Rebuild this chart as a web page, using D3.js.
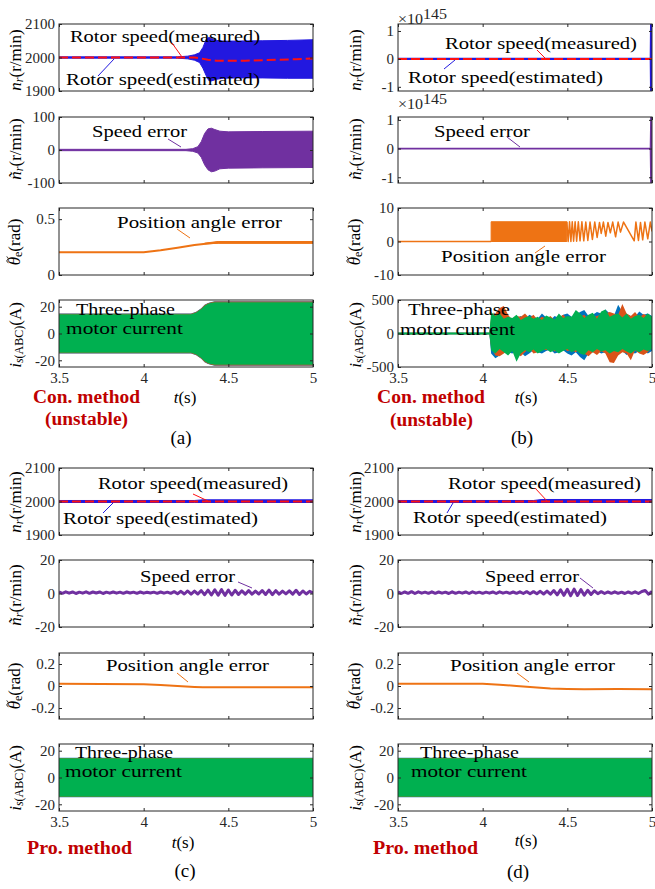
<!DOCTYPE html>
<html>
<head>
<meta charset="utf-8">
<script src="https://cdn.jsdelivr.net/npm/d3@7"></script>
<style>
  body { margin: 0; background: #fff; }
  svg { display: block; }
  text { font-family: "Liberation Serif", "DejaVu Serif", serif; }
</style>
</head>
<body>
<svg id="fig" width="655" height="889"></svg>
<script>
// ---------- shared time axis ----------
const tRange = [3.5, 5.0];
const xTickVals = [3.5, 4, 4.5, 5];

// ---------- (a) conventional method ----------
const aSpeedMeasT = [3.50, 4.30, 4.34, 4.38, 4.43, 4.50, 4.60, 4.70, 4.80, 4.90, 5.00];
const aSpeedMeasV = [2000, 2000, 1997, 1993, 1990.5, 1990, 1990.5, 1992, 1993.5, 1995, 1997];
const aSpeedEstT  = [3.50, 4.20, 4.26, 4.30, 4.33, 4.35, 4.37, 4.385, 4.40, 4.43, 4.47, 4.55, 4.70, 4.85, 5.00];
const aSpeedEstHi = [2002, 2002, 2004, 2008, 2014, 2030, 2055, 2060, 2057, 2051, 2049, 2049, 2050, 2051, 2053];
const aSpeedEstLo = [1998, 1998, 1996, 1992, 1985, 1968, 1945, 1931, 1930, 1935, 1938, 1939, 1939, 1938, 1938];
const aErrT  = [3.50, 4.25, 4.29, 4.32, 4.34, 4.36, 4.38, 4.40, 4.42, 4.45, 4.50, 4.70, 5.00];
const aErrHi = [2, 2, 4, 10, 25, 50, 64, 66, 62, 57, 55, 56, 57];
const aErrLo = [-2, -2, -4, -9, -22, -45, -60, -66, -64, -57, -55, -54, -53];
const aAngT = [3.50, 4.00, 4.10, 4.20, 4.30, 4.38, 4.44, 5.00];
const aAngV = [0.203, 0.203, 0.222, 0.245, 0.268, 0.282, 0.292, 0.292];
const aAngRipT  = [4.36, 4.44, 5.00];
const aAngRipHi = [0.285, 0.300, 0.300];
const aAngRipLo = [0.279, 0.284, 0.284];
const aCurT = [3.50, 4.28, 4.31, 4.34, 4.36, 4.38, 4.40, 4.42, 5.00];
const aCurA = [14.9, 14.9, 16.2, 18.8, 21.4, 22.8, 23.6, 24.0, 24.0];
const aCurB = [14.7, 14.7, 16.0, 18.6, 21.2, 22.6, 23.4, 23.8, 23.8];
const aCurC = [14.3, 14.3, 15.6, 18.2, 20.8, 22.2, 23.0, 23.3, 23.3];

// ---------- (b) conventional method, diverging (speed in units of 1e145) ----------
const bSpeedMeasT = [3.5, 5.0];
const bSpeedMeasV = [0, 0];
const bSpeedEstT  = [3.50, 4.990, 4.992, 5.00];
const bSpeedEstHi = [0.02, 0.02, 1.4, 1.4];
const bSpeedEstLo = [-0.02, -0.02, -1.3, -1.3];
const bErrT  = [3.50, 4.990, 4.993, 5.00];
const bErrHi = [0.01, 0.01, 1.2, 1.2];
const bErrLo = [-0.01, -0.01, -1.3, -1.3];
const bAngPreT = [3.50, 4.05];
const bAngPreV = [0, 0];
const bAngBandT  = [4.05, 4.497];
const bAngBandHi = [5.9, 5.9];
const bAngBandLo = [0, 0];
const bAngT = [4.497, 4.505, 4.513, 4.521, 4.529, 4.537, 4.546, 4.555, 4.565, 4.575,
               4.586, 4.597, 4.609, 4.621, 4.634, 4.648, 4.662, 4.676, 4.690, 4.700,
               4.713, 4.727, 4.740, 4.754, 4.768, 4.785, 4.800, 4.814, 4.832, 4.895,
               4.905, 4.920, 4.932, 4.945, 4.958, 4.975, 4.990, 5.000];
const bAngV = [5.9, 0.0, 5.9, 0.0, 5.9, 0.1, 5.9, 0.1, 5.9, 0.2,
               5.9, 0.2, 5.8, 0.3, 5.8, 0.6, 5.8, 1.2, 5.7, 2.4,
               5.8, 1.6, 5.7, 2.6, 5.8, 1.4, 5.8, 2.8, 5.8, 0.2,
               5.8, 0.3, 5.7, 0.5, 5.8, 0.8, 5.8, 3.0];
const bCurT = [3.5, 4.04, 4.05, 4.075, 4.1, 4.125, 4.15, 4.175, 4.2, 4.225,
               4.25, 4.275, 4.3, 4.325, 4.35, 4.375, 4.4, 4.425, 4.45, 4.475,
               4.5, 4.525, 4.55, 4.575, 4.6, 4.625, 4.65, 4.675, 4.7, 4.725,
               4.75, 4.775, 4.8, 4.825, 4.85, 4.875, 4.9, 4.925, 4.95, 4.975, 5.0];
const bCurAHi = [10, 10, 200, 280, 250, 220, 240, 200, 220, 260, 200, 280, 250, 220, 300, 240, 200, 260, 230, 280,
                 300, 250, 280, 320, 350, 260, 280, 320, 300, 360, 300, 260, 430, 320, 290, 260, 250, 330, 280, 300, 260];
const bCurALo = [-10, -10, -300, -370, -330, -250, -280, -300, -260, -280, -340, -300, -250, -280, -300, -260, -240, -300, -280, -250,
                 -300, -330, -280, -350, -400, -300, -280, -260, -300, -280, -250, -300, -280, -260, -320, -280, -300, -260, -240, -300, -260];
const bCurBHi = [12, 12, 250, 300, 380, 410, 280, 200, 260, 250, 300, 230, 280, 200, 250, 220, 260, 200, 240, 280,
                 220, 200, 300, 250, 280, 200, 240, 260, 280, 300, 320, 300, 280, 440, 300, 260, 320, 240, 290, 260, 220];
const bCurBLo = [-12, -12, -200, -330, -340, -300, -250, -220, -300, -340, -280, -220, -300, -280, -230, -250, -220, -270, -240, -220,
                 -260, -250, -280, -230, -300, -340, -280, -320, -260, -300, -430, -440, -330, -280, -300, -400, -250, -300, -320, -280, -200];
const bCurCHi = [15, 15, 320, 260, 300, 220, 250, 230, 280, 200, 240, 260, 220, 250, 200, 270, 240, 210, 300, 230,
                 260, 250, 350, 300, 230, 280, 310, 220, 330, 360, 250, 280, 300, 240, 300, 220, 260, 280, 230, 300, 250];
const bCurCLo = [-15, -15, -250, -300, -230, -280, -330, -260, -420, -300, -250, -280, -240, -300, -260, -230, -280, -250, -300, -260,
                 -230, -280, -250, -300, -320, -250, -280, -230, -270, -250, -300, -260, -280, -230, -270, -300, -250, -280, -240, -260, -230];

// ---------- (c) proposed method ----------
const cSpeedMeasT = [3.5, 5.0];
const cSpeedMeasV = [2000, 2000];
const cSpeedEstT  = [3.50, 4.30, 4.35, 5.00];
const cSpeedEstHi = [2003, 2003, 2005, 2005];
const cSpeedEstLo = [1997, 1997, 1997, 1997];
const errStep = 0.02;   // speed error sampled every 20 ms from 3.5 s
const cErrV = [0.9, 0.1, 1.0, 0.2, 0.9, 0.0, 0.8, 0.2, 1.0, 0.1, 0.9, 0.3, 0.9, 0.0, 0.8, 0.2, 0.9, 0.2, 0.8, 0.1,
               0.9, 0.3, 0.8, 0.1, 0.9, 0.2, 0.7, 0.3, 0.8, 0.1, 0.9, 0.2, 0.8, 0.1, 1.1,
               -0.1, 1.3, -0.3, 1.5, -0.4, 1.4, -0.3, 1.7, -0.7, 2.0, -0.9, 2.2, -1.0, 2.3, -1.1, 2.1, -0.9, 1.9, -0.6, 1.6,
               -0.4, 1.7, -0.4, 1.4, -0.3, 1.8, -0.6, 2.0, -0.7, 1.7, -0.4, 1.4, -0.2, 1.6, -0.4, 1.9, -0.6, 1.5, -0.3, 1.3, 0.3];
const cAngT = [3.50, 3.75, 4.00, 4.10, 4.20, 4.30, 4.35, 4.50, 4.70, 4.90, 5.00];
const cAngV = [0.020, 0.019, 0.016, 0.009, 0.000, -0.009, -0.012, -0.012, -0.011, -0.011, -0.012];
const cCurT = [3.5, 5.0];
const cCurA = [14.8, 14.8];
const cCurB = [14.6, 14.6];
const cCurC = [14.3, 14.3];

// ---------- (d) proposed method ----------
const dSpeedMeasT = [3.5, 5.0];
const dSpeedMeasV = [2000, 2000];
const dSpeedEstT  = [3.50, 4.30, 4.35, 5.00];
const dSpeedEstHi = [2003, 2003, 2006, 2006];
const dSpeedEstLo = [1997, 1997, 1997, 1997];
const dErrV = [1.0, 0.0, 0.9, 0.1, 1.1, 0.0, 1.0, 0.2, 0.8, 0.1, 1.0, 0.1, 0.9, 0.2, 0.8, 0.0, 1.0, 0.1, 0.8, 0.2,
               0.9, 0.0, 1.0, 0.2, 0.8, 0.1, 0.8, 0.2, 0.9, 0.0, 1.0, 0.2, 0.8, 0.1, 0.9, 0.1, 1.0, 0.0, 1.1, -0.1,
               1.1, -0.1, 1.3, -0.3, 1.4, -0.4,
               1.8, -0.8, 2.2, -1.1, 2.5, -1.3, 2.6, -1.2, 2.3, -1.0, 1.9, -0.6, 1.6,
               -0.1, 1.1, 0.0, 0.9, 0.1, 1.0, 0.1, 0.8, 0.0, 0.9, 0.1, 1.0, 0.0, 1.2, 1.8, -0.4, 1.3];
const dAngT = [3.50, 4.00, 4.10, 4.20, 4.30, 4.40, 4.50, 4.60, 4.80, 5.00];
const dAngV = [0.020, 0.020, 0.012, 0.000, -0.012, -0.022, -0.027, -0.030, -0.028, -0.030];
const dCurT = [3.5, 5.0];
const dCurA = [14.8, 14.8];
const dCurB = [14.6, 14.6];
const dCurC = [14.3, 14.3];

// ---------- colours ----------
const C_EST = '#2218e0', C_MEAS = '#ff1010', C_ERR = '#7030a0', C_ANG = '#ee7314';
const C_PA = '#0072bd', C_PB = '#d95319', C_PC = '#00b050';
const FONT = '"Liberation Serif", "DejaVu Serif", serif';
const INK = '#262626';

// ---------- layout ----------
const colL = [59, 313], colR = [398, 652];
const rowsTop = [[24, 91], [117, 183], [208, 275], [300, 367]];
const rowsBot = [[468, 535], [560, 627], [653, 719], [744, 811]];

const svg = d3.select('#fig');
let clipCount = 0;

function makePanel(cols, rows, yDomain, yTicks, showX) {
  const [x0, x1] = cols, [yt, yb] = rows;
  const x = d3.scaleLinear().domain(tRange).range([x0, x1]);
  const y = d3.scaleLinear().domain(yDomain).range([yb, yt]);
  const id = 'clip-' + (clipCount++);
  svg.append('clipPath').attr('id', id)
    .append('rect').attr('x', x0).attr('y', yt).attr('width', x1 - x0).attr('height', yb - yt);
  const plot = svg.append('g').attr('clip-path', `url(#${id})`);
  return { x, y, plot, x0, x1, yt, yb, yTicks, showX };
}

function finishPanel(p) {
  const g = svg.append('g');
  const fmt = d => String(d);
  g.append('g').attr('transform', `translate(${p.x0},0)`)
    .call(d3.axisLeft(p.y).tickValues(p.yTicks).tickSize(-3).tickPadding(4).tickFormat(fmt));
  g.append('g').attr('transform', `translate(${p.x1},0)`)
    .call(d3.axisRight(p.y).tickValues(p.yTicks).tickSize(-3).tickFormat(''));
  g.append('g').attr('transform', `translate(0,${p.yt})`)
    .call(d3.axisTop(p.x).tickValues(xTickVals).tickSize(-3).tickFormat(''));
  g.append('g').attr('transform', `translate(0,${p.yb})`)
    .call(d3.axisBottom(p.x).tickValues(xTickVals).tickSize(-3).tickPadding(5.5)
      .tickFormat(p.showX ? fmt : ''));
  g.selectAll('.domain').remove();
  g.selectAll('.tick line').attr('stroke', INK);
  g.selectAll('.tick text').attr('fill', INK).style('font-family', FONT).style('font-size', '15px');
  g.append('rect').attr('x', p.x0).attr('y', p.yt).attr('width', p.x1 - p.x0).attr('height', p.yb - p.yt)
    .attr('fill', 'none').attr('stroke', INK).attr('stroke-width', 1);
}

function band(p, T, hi, lo, color, edge) {
  const rows = T.map((t, i) => ({ t, hi: hi[i], lo: lo[i] }));
  p.plot.append('path').datum(rows)
    .attr('d', d3.area().x(d => p.x(d.t)).y0(d => p.y(d.lo)).y1(d => p.y(d.hi)))
    .attr('fill', color).attr('stroke', edge ? color : 'none').attr('stroke-width', edge || 0);
}
function line(p, T, V, color, w, dash) {
  const rows = T.map((t, i) => ({ t, v: V[i] }));
  const path = p.plot.append('path').datum(rows)
    .attr('d', d3.line().x(d => p.x(d.t)).y(d => p.y(d.v)))
    .attr('fill', 'none').attr('stroke', color).attr('stroke-width', w)
    .attr('stroke-linejoin', 'round');
  if (dash) path.attr('stroke-dasharray', dash);
}
function stepTimes(n) { return d3.range(n).map(i => tRange[0] + i * errStep); }

function text(x, cy, str, w, size, opt = {}) {
  const t = svg.append('text').attr('x', x).attr('y', cy)
    .attr('dominant-baseline', 'central')
    .style('font-family', FONT).style('font-size', size + 'px')
    .attr('fill', opt.color || '#000').text(str);
  if (opt.bold) t.style('font-weight', 'bold');
  if (opt.anchor) t.attr('text-anchor', opt.anchor);
  if (w) t.attr('textLength', w).attr('lengthAdjust', 'spacingAndGlyphs');
  return t;
}
function pointer(x1, y1, x2, y2, color) {
  svg.append('line').attr('x1', x1).attr('y1', y1).attr('x2', x2).attr('y2', y2)
    .attr('stroke', color).attr('stroke-width', 1);
}

// rotated y-axis label built from pieces: [text, italic, subscript]
function yLabel(cx, cy, parts) {
  const t = svg.append('text')
    .attr('transform', `translate(${cx},${cy}) rotate(-90)`)
    .attr('text-anchor', 'middle').attr('dominant-baseline', 'central')
    .style('font-family', FONT).style('font-size', '17px').attr('fill', '#000');
  let shift = 0;
  parts.forEach(([s, italic, sub]) => {
    const want = sub ? 4 : 0;
    const sp = t.append('tspan').text(s).attr('dy', want - shift);
    shift = want;
    if (italic) sp.style('font-style', 'italic');
    if (sub) sp.style('font-size', '12px');
  });
  return t;
}
function xLabel(cx, cy) {
  const t = svg.append('text').attr('x', cx).attr('y', cy)
    .attr('text-anchor', 'middle').attr('dominant-baseline', 'central')
    .style('font-family', FONT).style('font-size', '17px');
  t.append('tspan').text('t').style('font-style', 'italic');
  t.append('tspan').text('(s)');
}

const labSpeed = [['n', true], ['r', true, true], ['(r/min)']];
const labErr   = [['ñ', true], ['r', true, true], ['(r/min)']];
const labAng   = [['θ', true], ['e', false, true], ['(rad)']];
const labCur   = [['i', true], ['s', true, true], ['(ABC)', false, true], ['(A)']];

// angle label: theta with a small tilde accent stroked above it
function angLabel(cx, cy) {
  const t = yLabel(cx, cy, labAng);
  const bb = t.select('tspan').node().getBBox();
  const mx = bb.x + bb.width / 2 + 1.5, my = bb.y + 3;
  const accent = [[-3, 0.9], [-1.5, -0.8], [0, 0], [1.5, 0.8], [3, -0.9]].map(([dx, dy]) => [mx + dx, my + dy]);
  svg.append('path')
    .attr('transform', `translate(${cx},${cy}) rotate(-90)`)
    .attr('d', d3.line().curve(d3.curveCatmullRom)(accent))
    .attr('fill', 'none').attr('stroke', '#000').attr('stroke-width', 0.9);
}

// =================== column (a) ===================
{
  const p1 = makePanel(colL, rowsTop[0], [1900, 2100], [1900, 2000, 2100], false);
  band(p1, aSpeedEstT, aSpeedEstHi, aSpeedEstLo, C_EST, 1);
  line(p1, aSpeedMeasT, aSpeedMeasV, C_MEAS, 2, '9,4');
  finishPanel(p1);

  const p2 = makePanel(colL, rowsTop[1], [-100, 100], [-100, 0, 100], false);
  band(p2, aErrT, aErrHi, aErrLo, C_ERR, 1);
  finishPanel(p2);

  const p3 = makePanel(colL, rowsTop[2], [0, 0.6], [0, 0.5], false);
  line(p3, aAngT, aAngV, C_ANG, 2);
  band(p3, aAngRipT, aAngRipHi, aAngRipLo, C_ANG, 1);
  finishPanel(p3);

  const p4 = makePanel(colL, rowsTop[3], [-25, 25], [-20, 0, 20], true);
  band(p4, aCurT, aCurA, aCurA.map(v => -v), C_PA);
  band(p4, aCurT, aCurB, aCurB.map(v => -v), C_PB);
  band(p4, aCurT, aCurC, aCurC.map(v => -v), C_PC);
  finishPanel(p4);

  text(70, 36, 'Rotor speed(measured)', 190, 17);
  pointer(172, 43, 182, 57, C_MEAS);
  text(66, 79, 'Rotor speed(estimated)', 194, 17);
  pointer(98, 76, 114, 59, C_EST);
  text(92, 131, 'Speed error', 95, 17);
  pointer(168, 139, 181, 147, C_ERR);
  text(117, 222, 'Position angle error', 165, 17);
  pointer(177, 229, 190, 238, C_ANG);
  text(76, 309, 'Three-phase', 99, 17);
  text(66, 328, 'motor current', 117, 17);

  yLabel(15, 60, labSpeed);
  yLabel(15, 149, labErr);
  angLabel(14, 242);
  yLabel(15, 335, labCur);
  xLabel(185, 397);
  text(33, 397, 'Con. method', 107, 18, { bold: true, color: '#c00000' });
  text(45, 419, '(unstable)', 83, 18, { bold: true, color: '#c00000' });
  text(181, 437, '(a)', null, 19, { anchor: 'middle' });
}

// =================== column (b) ===================
{
  const p1 = makePanel(colR, rowsTop[0], [-1.15, 1.25], [-1, 0, 1], false);
  band(p1, bSpeedEstT, bSpeedEstHi, bSpeedEstLo, C_EST, 1.2);
  line(p1, bSpeedMeasT, bSpeedMeasV, C_MEAS, 2, '9,4');
  finishPanel(p1);

  const p2 = makePanel(colR, rowsTop[1], [-1.2, 1.1], [-1, 0, 1], false);
  band(p2, bErrT, bErrHi, bErrLo, C_ERR, 1.2);
  finishPanel(p2);

  const p3 = makePanel(colR, rowsTop[2], [-10, 10], [-10, 0, 10], false);
  line(p3, bAngPreT, bAngPreV, C_ANG, 1.5);
  band(p3, bAngBandT, bAngBandHi, bAngBandLo, C_ANG, 1);
  line(p3, bAngT, bAngV, C_ANG, 1.5);
  finishPanel(p3);

  const p4 = makePanel(colR, rowsTop[3], [-500, 500], [-500, 0, 500], true);
  band(p4, bCurT, bCurAHi, bCurALo, C_PA);
  band(p4, bCurT, bCurBHi, bCurBLo, C_PB);
  band(p4, bCurT, bCurCHi, bCurCLo, C_PC);
  finishPanel(p4);

  // exponent labels of the two speed axes
  [19, 104].forEach(cy => {
    text(398, cy, '×10', 25, 15, { color: INK });
    text(423, cy - 5, '145', 24, 14, { color: INK });
  });

  text(445, 43, 'Rotor speed(measured)', 192, 17);
  pointer(537, 50, 547, 60, C_MEAS);
  text(408, 77, 'Rotor speed(estimated)', 195, 17);
  pointer(444, 69, 455, 60, C_EST);
  text(434, 131, 'Speed error', 96, 17);
  pointer(507, 137, 520, 147, C_ERR);
  text(441, 256, 'Position angle error', 165, 17);
  pointer(535, 253, 545, 246, C_ANG);
  text(408, 309, 'Three-phase', 102, 17);
  text(400, 329, 'motor current', 115, 17);

  yLabel(355, 60, labSpeed);
  yLabel(355, 149, labErr);
  angLabel(354, 242);
  yLabel(355, 335, labCur);
  xLabel(526, 397);
  text(377, 397, 'Con. method', 108, 18, { bold: true, color: '#c00000' });
  text(390, 420, '(unstable)', 83, 18, { bold: true, color: '#c00000' });
  text(522, 437, '(b)', null, 19, { anchor: 'middle' });
}

// =================== columns (c) and (d) ===================
function proposedColumn(cols, d) {
  const p1 = makePanel(cols, rowsBot[0], [1900, 2100], [1900, 2000, 2100], false);
  band(p1, d.spT, d.spHi, d.spLo, C_EST, 1);
  line(p1, d.mT, d.mV, C_MEAS, 2, '9,4');
  finishPanel(p1);

  const p2 = makePanel(cols, rowsBot[1], [-20, 20], [-20, 0, 20], false);
  line(p2, stepTimes(d.err.length), d.err, C_ERR, 3);
  finishPanel(p2);

  const p3 = makePanel(cols, rowsBot[2], [-0.3, 0.3], [-0.2, 0, 0.2], false);
  line(p3, d.angT, d.angV, C_ANG, 2);
  finishPanel(p3);

  const p4 = makePanel(cols, rowsBot[3], [-25, 25], [-20, 0, 20], true);
  band(p4, d.curT, d.curA, d.curA.map(v => -v), C_PA);
  band(p4, d.curT, d.curB, d.curB.map(v => -v), C_PB);
  band(p4, d.curT, d.curC, d.curC.map(v => -v), C_PC);
  finishPanel(p4);
}

proposedColumn(colL, {
  spT: cSpeedEstT, spHi: cSpeedEstHi, spLo: cSpeedEstLo, mT: cSpeedMeasT, mV: cSpeedMeasV,
  err: cErrV, angT: cAngT, angV: cAngV, curT: cCurT, curA: cCurA, curB: cCurB, curC: cCurC
});
proposedColumn(colR, {
  spT: dSpeedEstT, spHi: dSpeedEstHi, spLo: dSpeedEstLo, mT: dSpeedMeasT, mV: dSpeedMeasV,
  err: dErrV, angT: dAngT, angV: dAngV, curT: dCurT, curA: dCurA, curB: dCurB, curC: dCurC
});

// annotations (c)
text(98, 483, 'Rotor speed(measured)', 190, 17);
pointer(193, 494, 208, 501, C_MEAS);
text(63, 518, 'Rotor speed(estimated)', 195, 17);
pointer(103, 513, 113, 503, C_EST);
text(140, 576, 'Speed error', 95, 17);
pointer(238, 582, 252, 588, C_ERR);
text(106, 665, 'Position angle error', 163, 17);
pointer(177, 673, 188, 682, C_ANG);
text(75, 752, 'Three-phase', 98, 17);
text(65, 771, 'motor current', 117, 17);
yLabel(15, 502, labSpeed);
yLabel(15, 595, labErr);
angLabel(14, 686);
yLabel(15, 778, labCur);
xLabel(183, 842);
text(27, 848, 'Pro. method', 105, 18, { bold: true, color: '#c00000' });
text(185, 870, '(c)', null, 19, { anchor: 'middle' });

// annotations (d)
text(448, 483, 'Rotor speed(measured)', 193, 17);
pointer(535, 488, 548, 502, C_MEAS);
text(413, 517, 'Rotor speed(estimated)', 194, 17);
pointer(447, 513, 453, 503, C_EST);
text(485, 576, 'Speed error', 94, 17);
pointer(580, 578, 593, 588, C_ERR);
text(450, 665, 'Position angle error', 165, 17);
pointer(517, 673, 529, 682, C_ANG);
text(420, 752, 'Three-phase', 99, 17);
text(411, 771, 'motor current', 116, 17);
yLabel(355, 502, labSpeed);
yLabel(355, 595, labErr);
angLabel(354, 686);
yLabel(355, 778, labCur);
xLabel(526, 840);
text(373, 848, 'Pro. method', 105, 18, { bold: true, color: '#c00000' });
text(518, 871, '(d)', null, 19, { anchor: 'middle' });
</script>
</body>
</html>
